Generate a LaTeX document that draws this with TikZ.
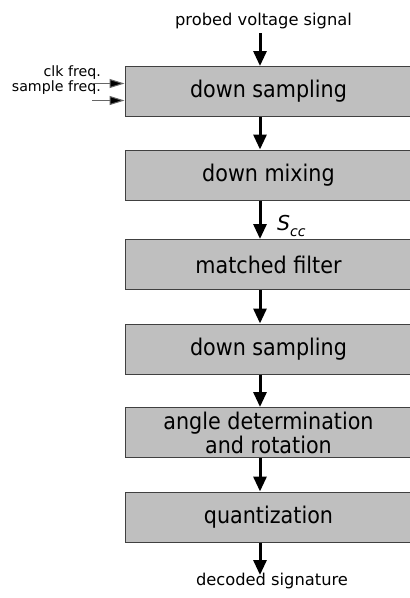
\documentclass[tikz,border=0pt]{standalone}
\usepackage{fontspec}
\setmainfont{DejaVu Sans Condensed}
\newfontfamily\labelfont{DejaVu Sans}
\usetikzlibrary{arrows.meta}
\begin{document}
\begin{tikzpicture}[x=1pt,y=-1pt,
  stage/.style={draw=black!75, line width=1pt, fill=black!25, minimum width=287pt,
    minimum height=50pt, inner sep=0pt, align=center, font=\fontsize{23}{24}\selectfont},
  flow/.style={line width=3pt, -{Triangle[width=13pt,length=15pt]}},
  side/.style={draw=black!60, line width=1pt, -{Triangle[width=9pt,length=15pt,fill=black]}},
  lbl/.style={inner sep=0pt, anchor=base, font=\labelfont\fontsize{16.3}{18}\selectfont},
  slbl/.style={inner sep=0pt, anchor=base east, font=\labelfont\fontsize{14.2}{16}\selectfont}]
\useasboundingbox (0,0) rectangle (410,598);

% processing stages
\node[stage] (b1) at (268.5,91.5) {down sampling};
\node[stage] (b2) at (268.5,175) {down mixing};
\node[stage] (b3) at (268.5,264.5) {matched filter};
\node[stage] (b4) at (268.5,349) {down sampling};
\node[stage] (b5) at (268.5,432.5) {angle determination\\and rotation};
\node[stage] (b6) at (268.5,517) {quantization};

% input and output labels
\node[lbl] (in) at (263.5,25) {probed voltage signal};
\node[lbl] (out) at (272,585) {decoded signature};
\node[slbl] (clk) at (101,76.5) {clk freq.};
\node[slbl] (smp) at (101,91.5) {sample freq.};

% arrow axis
\coordinate (ax) at (260,0);
\coordinate (top) at (260,33);
\coordinate (bot) at (260,575);
\coordinate (c1) at (92,83.5);
\coordinate (c2) at (92,100.5);

\draw[flow] (top) -- (b1.north -| ax);
\draw[flow] (b1.south -| ax) -- (b2.north -| ax);
\draw[flow] (b2.south -| ax) -- (b3.north -| ax);
\draw[flow] (b3.south -| ax) -- (b4.north -| ax);
\draw[flow] (b4.south -| ax) -- (b5.north -| ax);
\draw[flow] (b5.south -| ax) -- (b6.north -| ax);
\draw[flow] (b6.south -| ax) -- (bot);

% signal name on the mixer output
\node[inner sep=0pt, anchor=base west, font=\labelfont\itshape\fontsize{20.5}{22}\selectfont] (scc) at (277,230)
  {S\raisebox{-6pt}{\fontsize{14}{14}\selectfont cc}};

\draw[side] (c1) -- (c1 -| b1.west);
\draw[side] (c2) -- (c2 -| b1.west);
\end{tikzpicture}
\end{document}
